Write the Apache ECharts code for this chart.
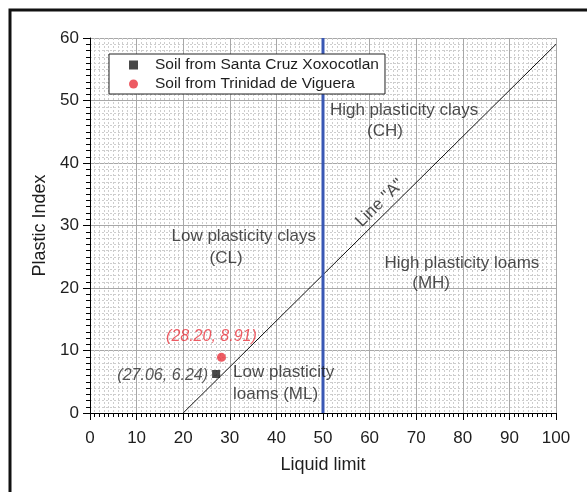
<!DOCTYPE html>
<html>
<head>
<meta charset="utf-8">
<script src="https://cdn.jsdelivr.net/npm/echarts@6/dist/echarts.min.js"></script>
<style>
  html, body { margin: 0; padding: 0; background: #fff; }
  #chart { width: 587px; height: 492px; }
</style>
</head>
<body>
<div id="chart"></div>
<script>
// Plasticity chart (Casagrande): liquid limit vs plastic index
const FONT = 'Liberation Sans, Arial, Helvetica, sans-serif';

const sampleNames = ['Soil from Santa Cruz Xoxocotlan', 'Soil from Trinidad de Viguera'];
const santaCruz = [[27.06, 6.24]];
const trinidad = [[28.20, 8.91]];

// Line "A" end points and the LL = 50 divider
const lineA = [[20, 0], [100, 59]];
const ll50 = [[50, 0], [50, 60]];

// Zone labels: text and anchor in data units
const zoneText = ['High plasticity clays', '(CH)', 'Low plasticity clays', '(CL)',
                  'High plasticity loams', '(MH)'];
const zoneAt = [[67.4, 48.5], [63.3, 45.1], [33.0, 28.2], [29.2, 24.8],
                [79.8, 24.0], [73.2, 20.8]];
const mlText = ['Low plasticity', 'loams (ML)'];
const mlAt = [[30.7, 6.45], [30.7, 3.05]];
const lineALabel = 'Line "A"';
const lineALabelAt = [62.2, 33.6];

const xTicks = { min: 0, max: 100, step: 10 };
const yTicks = { min: 0, max: 60, step: 10 };

const chart = echarts.init(document.getElementById('chart'), null, { renderer: 'canvas' });

const textColor = '#1e1e1e';
const red = '#e8323c';

function fmtPoint(p) {
  return '(' + p.value[0].toFixed(2) + ', ' + p.value[1].toFixed(2) + ')';
}

const annotationData = []
  .concat(zoneText.map((t, i) => ({ name: t, value: zoneAt[i], label: { align: 'center' } })))
  .concat(mlText.map((t, i) => ({ name: t, value: mlAt[i], label: { align: 'left' } })))
  .concat([{ name: lineALabel, value: lineALabelAt, label: { align: 'center', rotate: 44.6 } }]);

function axisCommon(name, labelMargin) {
  return {
    type: 'value',
    name: name,
    nameLocation: 'middle',
    nameTextStyle: { fontFamily: FONT, fontSize: 18, color: textColor },
    axisLine: { show: true, onZero: false, lineStyle: { color: '#000', width: 1 } },
    axisTick: { show: true, inside: false, length: 7, lineStyle: { color: '#000', width: 1 } },
    minorTick: { show: true, splitNumber: 10, length: 4, lineStyle: { color: '#000', width: 1 } },
    axisLabel: { fontFamily: FONT, fontSize: 17, color: textColor, margin: labelMargin },
    splitLine: { show: true, lineStyle: { color: '#a8a8a8', width: 1 } },
    minorSplitLine: { show: true, lineStyle: { color: '#cdcdcd', width: 1, type: [2, 2] } }
  };
}

const option = {
  animation: false,
  backgroundColor: '#fff',
  graphic: [{
    type: 'rect',
    shape: { x: 10, y: 10, width: 700, height: 600 },
    style: { fill: 'none', stroke: '#111', lineWidth: 3 },
    silent: true,
    z: 100
  }],
  grid: { left: 90, right: 31, top: 38, bottom: 79, containLabel: false },
  legend: {
    data: sampleNames,
    orient: 'vertical',
    left: 109,
    top: 54,
    padding: [3, 6, 2, 20],
    backgroundColor: '#fff',
    borderColor: '#222',
    borderWidth: 1,
    borderRadius: 0,
    itemWidth: 9,
    itemHeight: 9,
    itemGap: 3,
    textStyle: { fontFamily: FONT, fontSize: 15.5, color: textColor, lineHeight: 16, padding: [0, 0, 0, 12] },
    z: 20
  },
  xAxis: Object.assign(axisCommon('Liquid limit', 17), {
    min: xTicks.min, max: xTicks.max, interval: xTicks.step,
    nameGap: 43
  }),
  yAxis: Object.assign(axisCommon('Plastic Index', 11), {
    min: yTicks.min, max: yTicks.max, interval: yTicks.step,
    nameGap: 41
  }),
  series: [
    {
      name: 'Line A',
      type: 'line',
      data: lineA,
      symbol: 'none',
      lineStyle: { color: '#111', width: 1 },
      silent: true,
      z: 3
    },
    {
      name: 'LL 50',
      type: 'line',
      data: ll50,
      symbol: 'none',
      lineStyle: { color: '#3a58b4', width: 3 },
      silent: true,
      z: 4
    },
    {
      name: 'zones',
      type: 'scatter',
      data: annotationData,
      symbolSize: 0,
      silent: true,
      z: 5,
      label: {
        show: true,
        position: 'inside',
        verticalAlign: 'middle',
        formatter: p => p.name,
        fontFamily: FONT,
        fontSize: 17,
        color: textColor
      }
    },
    {
      name: sampleNames[0],
      type: 'scatter',
      data: santaCruz,
      symbol: 'rect',
      symbolSize: 8,
      itemStyle: { color: '#1a1a1a' },
      z: 10,
      label: {
        show: true,
        position: 'left',
        distance: 4,
        offset: [0, 2],
        formatter: fmtPoint,
        fontFamily: FONT,
        fontSize: 16,
        fontStyle: 'italic',
        color: '#2a2a2a'
      }
    },
    {
      name: sampleNames[1],
      type: 'scatter',
      data: trinidad,
      symbol: 'circle',
      symbolSize: 9,
      itemStyle: { color: red },
      z: 10,
      label: {
        show: true,
        position: 'top',
        distance: 5,
        offset: [-10, -3],
        formatter: fmtPoint,
        fontFamily: FONT,
        fontSize: 16,
        fontStyle: 'italic',
        color: red
      }
    }
  ]
};

chart.setOption(option);
</script>
</body>
</html>
